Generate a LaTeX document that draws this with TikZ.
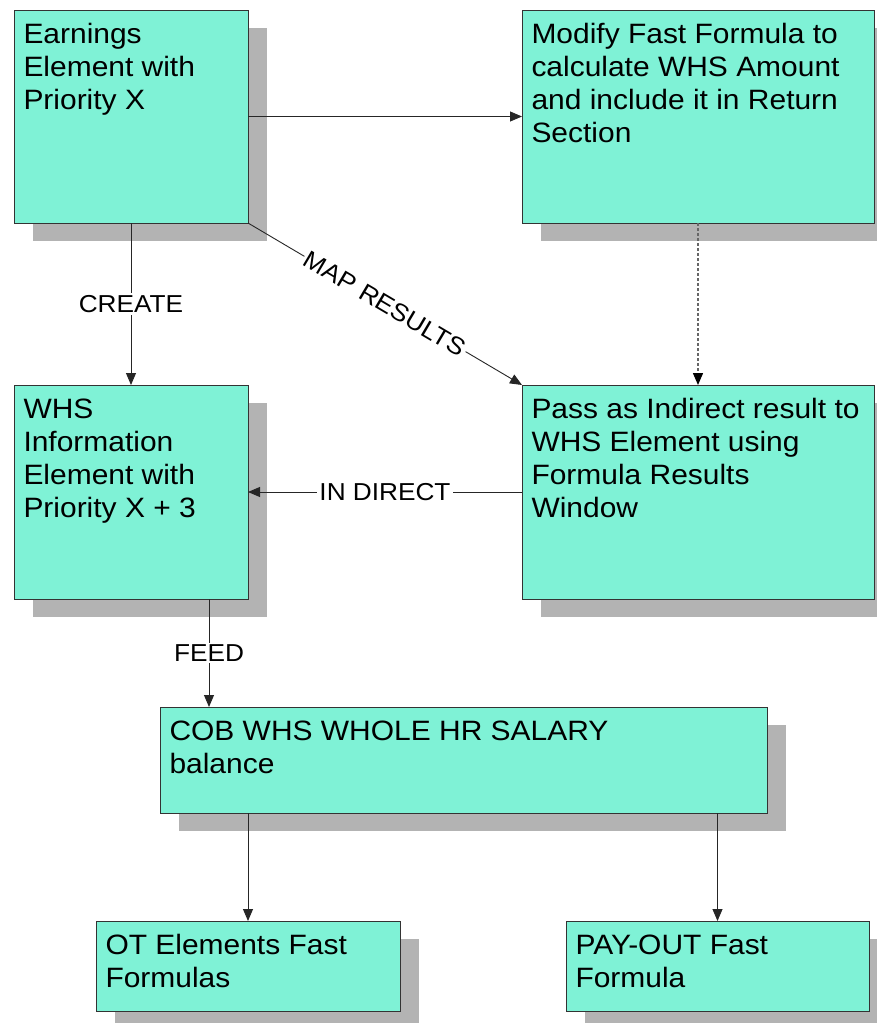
\documentclass[tikz,border=0pt]{standalone}
\usepackage{fontspec}
\setmainfont{Liberation Sans}[FakeStretch=1.07]
\usetikzlibrary{arrows.meta,shadows}
\definecolor{boxfill}{HTML}{7FF2D6}
\definecolor{boxline}{HTML}{333333}
\definecolor{shadowgray}{HTML}{B3B3B3}
\definecolor{dashgray}{HTML}{666666}
\newcommand{\bxtext}[3]{\parbox[t][#2][t]{#1}{\raggedright\rule{0pt}{33.5pt}#3}}
\begin{document}
\begin{tikzpicture}[x=1pt,y=-1pt,
  box/.style={draw=boxline, line width=1pt, fill=boxfill, anchor=north west,
    inner xsep=9.5pt, inner ysep=0pt, outer sep=0pt,
    font=\fontsize{28}{33}\selectfont,
    drop shadow={shadow xshift=19pt, shadow yshift=-18pt, fill=shadowgray, opacity=1, draw=none}},
  arr/.style={draw=black!85, line width=0.9pt, -{Triangle[length=12pt,width=10pt]}},
  dasharr/.style={draw=dashgray, line width=1.4pt, dash pattern=on 3pt off 2pt, -{Triangle[length=12pt,width=10pt,color=black]}},
  lbl/.style={fill=white, inner sep=2pt, font=\fontsize{24.5}{26}\selectfont, text=black}]
\useasboundingbox (0,0) rectangle (876,1023);
\fill[white] (0,0) rectangle (876,1023);

\node[box] (A) at (14,10) {\bxtext{215pt}{213pt}{Earnings\\Element with\\Priority X}};
\node[box] (B) at (522,10) {\bxtext{333pt}{213pt}{Modify Fast Formula to\\calculate WHS Amount\\and include it in Return\\Section}};
\node[box] (C) at (14,385) {\bxtext{215pt}{214pt}{WHS\\Information\\Element with\\Priority X + 3}};
\node[box] (D) at (522,385) {\bxtext{333pt}{214pt}{Pass as Indirect result to\\WHS Element using\\Formula Results\\Window}};
\node[box] (E) at (160,707) {\bxtext{588pt}{106pt}{COB WHS WHOLE HR SALARY\\balance}};
\node[box] (F) at (96,921) {\bxtext{285pt}{90pt}{OT Elements Fast\\Formulas}};
\node[box] (G) at (566,921) {\bxtext{284pt}{90pt}{PAY-OUT Fast\\Formula}};

\draw[arr] (A.east) -- (B.west);
\draw[arr] (A.south) -- node[lbl] {CREATE} (C.north);
\draw[arr] (A.south east) -- node[lbl, sloped] {MAP RESULTS} (D.north west);
\draw[dasharr] (B.south) -- (D.north);
\draw[arr] (D.west) -- node[lbl] {IN DIRECT} (C.east);
\coordinate (cfeed) at ([xshift=78pt]C.south);
\draw[arr] (cfeed) -- node[lbl] {FEED} (cfeed |- E.north);
\draw[arr] (F.north |- E.south) -- (F.north);
\draw[arr] (G.north |- E.south) -- (G.north);
\end{tikzpicture}
\end{document}
